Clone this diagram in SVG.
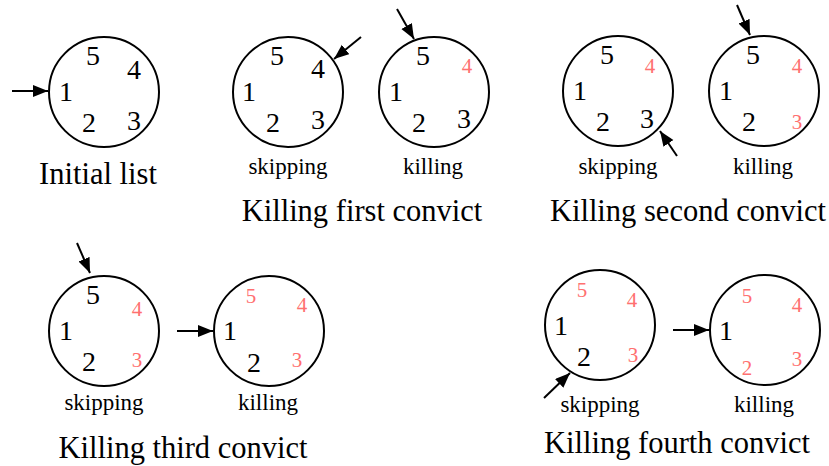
<svg xmlns="http://www.w3.org/2000/svg" width="829" height="466" viewBox="0 0 829 466">
<defs>
<marker id="ah" markerWidth="16" markerHeight="13" refX="15" refY="6" orient="auto" markerUnits="userSpaceOnUse">
<path d="M0,0 L15,6 L0,12 z" fill="#000"/>
</marker>
<style>
.c{fill:none;stroke:#000;stroke-width:2}
.d{font-family:"Liberation Serif",serif;font-size:28px;fill:#000;text-anchor:middle}
.r{font-family:"Liberation Serif",serif;font-size:21px;fill:#ff7070;text-anchor:middle}
.s{font-family:"Liberation Serif",serif;font-size:23px;fill:#000;text-anchor:middle}
.t{font-family:"Liberation Serif",serif;font-size:30.5px;fill:#000;text-anchor:middle}
.a{stroke:#000;stroke-width:2;fill:none;marker-end:url(#ah)}
</style>
</defs>
<rect width="829" height="466" fill="#fff"/>

<g id="initial">
<circle class="c" cx="104" cy="92" r="55"/>
<text class="d" x="93" y="65">5</text>
<text class="d" x="134" y="79">4</text>
<text class="d" x="66" y="101">1</text>
<text class="d" x="89" y="132">2</text>
<text class="d" x="134" y="130">3</text>
<text class="t" x="98" y="184">Initial list</text>
</g>

<g id="first-skip">
<circle class="c" cx="288" cy="92" r="55"/>
<text class="d" x="277" y="65">5</text>
<text class="d" x="318" y="78">4</text>
<text class="d" x="249" y="101">1</text>
<text class="d" x="273" y="132">2</text>
<text class="d" x="318" y="129">3</text>
<text class="s" x="288" y="174">skipping</text>
</g>

<g id="first-kill">
<circle class="c" cx="434" cy="92" r="55"/>
<text class="d" x="423" y="65">5</text>
<text class="r" x="467" y="73">4</text>
<text class="d" x="396" y="101">1</text>
<text class="d" x="419" y="132">2</text>
<text class="d" x="464" y="128">3</text>
<text class="s" x="433" y="174">killing</text>
</g>
<text class="t" x="362" y="221">Killing first convict</text>

<g id="second-skip">
<circle class="c" cx="618" cy="91" r="55"/>
<text class="d" x="607" y="64">5</text>
<text class="r" x="650" y="73">4</text>
<text class="d" x="580" y="100">1</text>
<text class="d" x="603" y="131">2</text>
<text class="d" x="647" y="128">3</text>
<text class="s" x="618" y="174">skipping</text>
</g>

<g id="second-kill">
<circle class="c" cx="764" cy="91" r="55"/>
<text class="d" x="753" y="64">5</text>
<text class="r" x="797" y="73">4</text>
<text class="d" x="726" y="100">1</text>
<text class="d" x="749" y="131">2</text>
<text class="r" x="797" y="129">3</text>
<text class="s" x="763" y="174">killing</text>
</g>
<text class="t" x="688" y="221">Killing second convict</text>

<g id="third-skip">
<circle class="c" cx="104" cy="331" r="55"/>
<text class="d" x="93" y="304">5</text>
<text class="r" x="137" y="316">4</text>
<text class="d" x="66" y="340">1</text>
<text class="d" x="89" y="371">2</text>
<text class="r" x="137" y="367">3</text>
<text class="s" x="104" y="410">skipping</text>
</g>

<g id="third-kill">
<circle class="c" cx="269" cy="331" r="55"/>
<text class="r" x="251" y="303">5</text>
<text class="r" x="302" y="312">4</text>
<text class="d" x="230" y="340">1</text>
<text class="d" x="254" y="372">2</text>
<text class="r" x="297" y="367">3</text>
<text class="s" x="268" y="410">killing</text>
</g>
<text class="t" x="183" y="458">Killing third convict</text>

<g id="fourth-skip">
<circle class="c" cx="600" cy="325" r="55"/>
<text class="r" x="582" y="297">5</text>
<text class="r" x="632" y="307">4</text>
<text class="d" x="561" y="335">1</text>
<text class="d" x="584" y="366">2</text>
<text class="r" x="633" y="362">3</text>
<text class="s" x="600" y="412">skipping</text>
</g>

<g id="fourth-kill">
<circle class="c" cx="765" cy="330" r="55"/>
<text class="r" x="747" y="303">5</text>
<text class="r" x="797" y="312">4</text>
<text class="d" x="726" y="340">1</text>
<text class="r" x="747" y="375">2</text>
<text class="r" x="797" y="366">3</text>
<text class="s" x="764" y="412">killing</text>
</g>
<text class="t" x="677" y="453">Killing fourth convict</text>

<g id="connectors">
<line class="a" x1="12" y1="91" x2="48" y2="91"/>
<line class="a" x1="361" y1="37" x2="334" y2="59"/>
<line class="a" x1="397" y1="9" x2="414" y2="39"/>
<line class="a" x1="677" y1="156" x2="660" y2="131"/>
<line class="a" x1="737" y1="5" x2="750" y2="35"/>
<line class="a" x1="77" y1="243" x2="90" y2="273"/>
<line class="a" x1="177" y1="331" x2="213" y2="331"/>
<line class="a" x1="544" y1="398" x2="570" y2="373"/>
<line class="a" x1="673" y1="330" x2="709" y2="330"/>
</g>
</svg>
